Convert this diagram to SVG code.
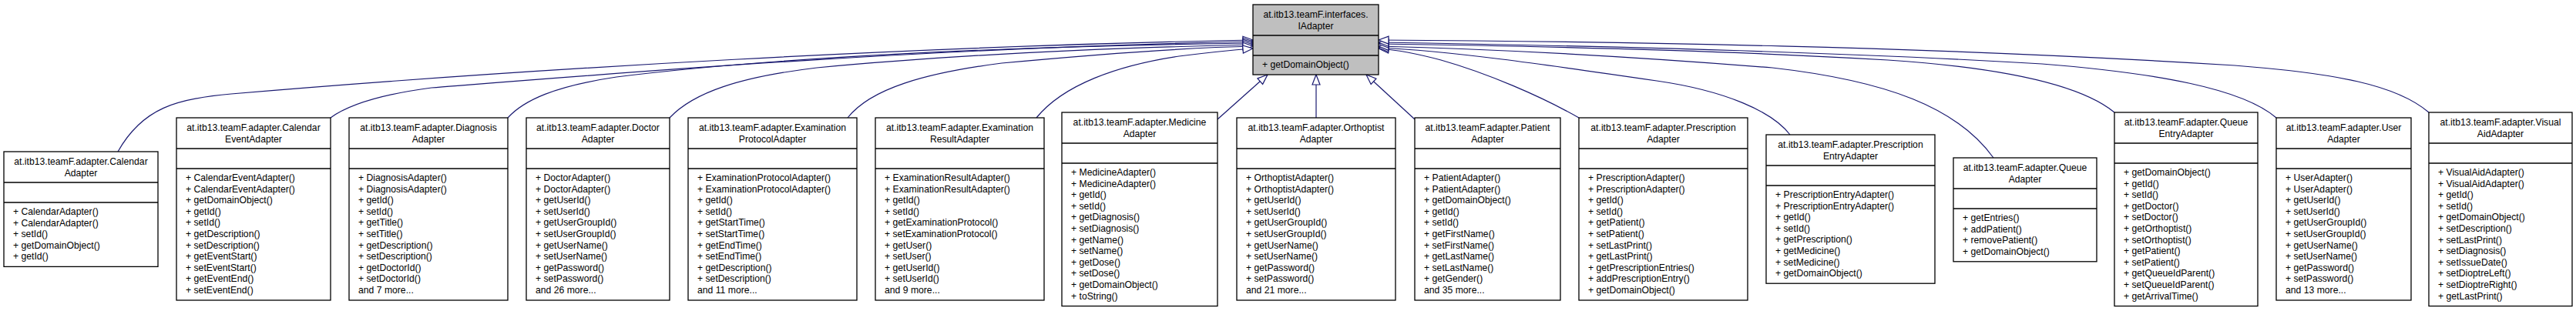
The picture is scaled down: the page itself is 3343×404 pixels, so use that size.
<svg xmlns="http://www.w3.org/2000/svg" width="3343" height="404" viewBox="0 0 3343 404">
<style>
.box{fill:#fff;stroke:#000;stroke-width:1.3}
.top{fill:#bfbfbf;stroke:#000;stroke-width:1.3}
.sep{stroke:#000;stroke-width:1.3}
.t{font-family:"Liberation Sans",Arial,sans-serif;font-size:12.2px;fill:#000}
.c{text-anchor:middle}
.e{fill:none;stroke:#191970;stroke-width:1.2;marker-end:url(#inh)}
</style>
<defs>
<marker id="inh" markerUnits="userSpaceOnUse" markerWidth="16" markerHeight="12" viewBox="0 0 16 12" refX="14" refY="6" orient="auto">
<path d="M1,1 L14,6 L1,11 z" fill="#fff" stroke="#191970" stroke-width="1.2"/>
</marker>
</defs>
<rect width="3343" height="404" fill="#fff"/>
<g id="connectors">
<path class="e" d="M153,197 C185,140 230,128 300,122 C700,88 1200,60 1626,52"/>
<path class="e" d="M429,153 C455,134 500,122 560,114 C800,95 1200,62 1626,54"/>
<path class="e" d="M659,153 C680,130 720,112 800,100 C1000,75 1300,60 1626,56"/>
<path class="e" d="M869,153 C900,120 960,100 1060,88 C1250,70 1450,62 1626,58"/>
<path class="e" d="M1100,153 C1130,115 1200,95 1300,82 C1450,68 1540,62 1626,60"/>
<path class="e" d="M1345,153 C1380,110 1450,85 1530,73 C1570,68 1600,65 1626,63"/>
<path class="e" d="M1580,155 L1645,97"/>
<path class="e" d="M1708,153 L1708,97"/>
<path class="e" d="M1836,155 L1773,97"/>
<path class="e" d="M2049,153 C2000,125 1930,95 1870,78 C1840,70 1815,65 1789,63"/>
<path class="e" d="M2323,175 C2300,145 2240,118 2150,105 C2000,83 1880,66 1789,62"/>
<path class="e" d="M2587,205 C2540,140 2450,105 2300,88 C2100,72 1950,64 1789,60"/>
<path class="e" d="M2744,146 C2700,110 2600,88 2450,78 C2250,66 2000,60 1789,57"/>
<path class="e" d="M2954,153 C2910,115 2800,95 2650,83 C2400,68 2100,60 1789,55"/>
<path class="e" d="M3152,146 C3110,110 3030,95 2900,85 C2500,60 2100,54 1789,52"/>
</g>
<g id="IAdapter" transform="translate(1626,6)">
<rect class="top" width="163" height="91"/>
<line class="sep" x1="0" y1="40" x2="163" y2="40"/>
<line class="sep" x1="0" y1="66" x2="163" y2="66"/>
<text class="t c" x="81.5" y="17">at.itb13.teamF.interfaces.</text>
<text class="t c" x="81.5" y="31.6">IAdapter</text>
<text class="t" x="12" y="82">+ getDomainObject()</text>
</g>
<g id="CalendarAdapter" transform="translate(5,197)">
<rect class="box" width="200" height="149.4"/>
<line class="sep" x1="0" y1="40" x2="200" y2="40"/>
<line class="sep" x1="0" y1="66" x2="200" y2="66"/>
<text class="t c" x="100" y="17">at.itb13.teamF.adapter.Calendar</text>
<text class="t c" x="100" y="31.6">Adapter</text>
<text class="t" y="82"><tspan x="12">+ CalendarAdapter()</tspan><tspan x="12" dy="14.6">+ CalendarAdapter()</tspan><tspan x="12" dy="14.6">+ setId()</tspan><tspan x="12" dy="14.6">+ getDomainObject()</tspan><tspan x="12" dy="14.6">+ getId()</tspan></text>
</g>
<g id="CalendarEventAdapter" transform="translate(229,153)">
<rect class="box" width="200" height="237"/>
<line class="sep" x1="0" y1="40" x2="200" y2="40"/>
<line class="sep" x1="0" y1="66" x2="200" y2="66"/>
<text class="t c" x="100" y="17">at.itb13.teamF.adapter.Calendar</text>
<text class="t c" x="100" y="31.6">EventAdapter</text>
<text class="t" y="82"><tspan x="12">+ CalendarEventAdapter()</tspan><tspan x="12" dy="14.6">+ CalendarEventAdapter()</tspan><tspan x="12" dy="14.6">+ getDomainObject()</tspan><tspan x="12" dy="14.6">+ getId()</tspan><tspan x="12" dy="14.6">+ setId()</tspan><tspan x="12" dy="14.6">+ getDescription()</tspan><tspan x="12" dy="14.6">+ setDescription()</tspan><tspan x="12" dy="14.6">+ getEventStart()</tspan><tspan x="12" dy="14.6">+ setEventStart()</tspan><tspan x="12" dy="14.6">+ getEventEnd()</tspan><tspan x="12" dy="14.6">+ setEventEnd()</tspan></text>
</g>
<g id="DiagnosisAdapter" transform="translate(453,153)">
<rect class="box" width="206" height="237"/>
<line class="sep" x1="0" y1="40" x2="206" y2="40"/>
<line class="sep" x1="0" y1="66" x2="206" y2="66"/>
<text class="t c" x="103" y="17">at.itb13.teamF.adapter.Diagnosis</text>
<text class="t c" x="103" y="31.6">Adapter</text>
<text class="t" y="82"><tspan x="12">+ DiagnosisAdapter()</tspan><tspan x="12" dy="14.6">+ DiagnosisAdapter()</tspan><tspan x="12" dy="14.6">+ getId()</tspan><tspan x="12" dy="14.6">+ setId()</tspan><tspan x="12" dy="14.6">+ getTitle()</tspan><tspan x="12" dy="14.6">+ setTitle()</tspan><tspan x="12" dy="14.6">+ getDescription()</tspan><tspan x="12" dy="14.6">+ setDescription()</tspan><tspan x="12" dy="14.6">+ getDoctorId()</tspan><tspan x="12" dy="14.6">+ setDoctorId()</tspan><tspan x="12" dy="14.6">and 7 more...</tspan></text>
</g>
<g id="DoctorAdapter" transform="translate(683,153)">
<rect class="box" width="186" height="237"/>
<line class="sep" x1="0" y1="40" x2="186" y2="40"/>
<line class="sep" x1="0" y1="66" x2="186" y2="66"/>
<text class="t c" x="93" y="17">at.itb13.teamF.adapter.Doctor</text>
<text class="t c" x="93" y="31.6">Adapter</text>
<text class="t" y="82"><tspan x="12">+ DoctorAdapter()</tspan><tspan x="12" dy="14.6">+ DoctorAdapter()</tspan><tspan x="12" dy="14.6">+ getUserId()</tspan><tspan x="12" dy="14.6">+ setUserId()</tspan><tspan x="12" dy="14.6">+ getUserGroupId()</tspan><tspan x="12" dy="14.6">+ setUserGroupId()</tspan><tspan x="12" dy="14.6">+ getUserName()</tspan><tspan x="12" dy="14.6">+ setUserName()</tspan><tspan x="12" dy="14.6">+ getPassword()</tspan><tspan x="12" dy="14.6">+ setPassword()</tspan><tspan x="12" dy="14.6">and 26 more...</tspan></text>
</g>
<g id="ExaminationProtocolAdapter" transform="translate(893,153)">
<rect class="box" width="219" height="237"/>
<line class="sep" x1="0" y1="40" x2="219" y2="40"/>
<line class="sep" x1="0" y1="66" x2="219" y2="66"/>
<text class="t c" x="109.5" y="17">at.itb13.teamF.adapter.Examination</text>
<text class="t c" x="109.5" y="31.6">ProtocolAdapter</text>
<text class="t" y="82"><tspan x="12">+ ExaminationProtocolAdapter()</tspan><tspan x="12" dy="14.6">+ ExaminationProtocolAdapter()</tspan><tspan x="12" dy="14.6">+ getId()</tspan><tspan x="12" dy="14.6">+ setId()</tspan><tspan x="12" dy="14.6">+ getStartTime()</tspan><tspan x="12" dy="14.6">+ setStartTime()</tspan><tspan x="12" dy="14.6">+ getEndTime()</tspan><tspan x="12" dy="14.6">+ setEndTime()</tspan><tspan x="12" dy="14.6">+ getDescription()</tspan><tspan x="12" dy="14.6">+ setDescription()</tspan><tspan x="12" dy="14.6">and 11 more...</tspan></text>
</g>
<g id="ExaminationResultAdapter" transform="translate(1136,153)">
<rect class="box" width="219" height="237"/>
<line class="sep" x1="0" y1="40" x2="219" y2="40"/>
<line class="sep" x1="0" y1="66" x2="219" y2="66"/>
<text class="t c" x="109.5" y="17">at.itb13.teamF.adapter.Examination</text>
<text class="t c" x="109.5" y="31.6">ResultAdapter</text>
<text class="t" y="82"><tspan x="12">+ ExaminationResultAdapter()</tspan><tspan x="12" dy="14.6">+ ExaminationResultAdapter()</tspan><tspan x="12" dy="14.6">+ getId()</tspan><tspan x="12" dy="14.6">+ setId()</tspan><tspan x="12" dy="14.6">+ getExaminationProtocol()</tspan><tspan x="12" dy="14.6">+ setExaminationProtocol()</tspan><tspan x="12" dy="14.6">+ getUser()</tspan><tspan x="12" dy="14.6">+ setUser()</tspan><tspan x="12" dy="14.6">+ getUserId()</tspan><tspan x="12" dy="14.6">+ setUserId()</tspan><tspan x="12" dy="14.6">and 9 more...</tspan></text>
</g>
<g id="MedicineAdapter" transform="translate(1378,146)">
<rect class="box" width="202" height="251.6"/>
<line class="sep" x1="0" y1="40" x2="202" y2="40"/>
<line class="sep" x1="0" y1="66" x2="202" y2="66"/>
<text class="t c" x="101" y="17">at.itb13.teamF.adapter.Medicine</text>
<text class="t c" x="101" y="31.6">Adapter</text>
<text class="t" y="82"><tspan x="12">+ MedicineAdapter()</tspan><tspan x="12" dy="14.6">+ MedicineAdapter()</tspan><tspan x="12" dy="14.6">+ getId()</tspan><tspan x="12" dy="14.6">+ setId()</tspan><tspan x="12" dy="14.6">+ getDiagnosis()</tspan><tspan x="12" dy="14.6">+ setDiagnosis()</tspan><tspan x="12" dy="14.6">+ getName()</tspan><tspan x="12" dy="14.6">+ setName()</tspan><tspan x="12" dy="14.6">+ getDose()</tspan><tspan x="12" dy="14.6">+ setDose()</tspan><tspan x="12" dy="14.6">+ getDomainObject()</tspan><tspan x="12" dy="14.6">+ toString()</tspan></text>
</g>
<g id="OrthoptistAdapter" transform="translate(1605,153)">
<rect class="box" width="206" height="237"/>
<line class="sep" x1="0" y1="40" x2="206" y2="40"/>
<line class="sep" x1="0" y1="66" x2="206" y2="66"/>
<text class="t c" x="103" y="17">at.itb13.teamF.adapter.Orthoptist</text>
<text class="t c" x="103" y="31.6">Adapter</text>
<text class="t" y="82"><tspan x="12">+ OrthoptistAdapter()</tspan><tspan x="12" dy="14.6">+ OrthoptistAdapter()</tspan><tspan x="12" dy="14.6">+ getUserId()</tspan><tspan x="12" dy="14.6">+ setUserId()</tspan><tspan x="12" dy="14.6">+ getUserGroupId()</tspan><tspan x="12" dy="14.6">+ setUserGroupId()</tspan><tspan x="12" dy="14.6">+ getUserName()</tspan><tspan x="12" dy="14.6">+ setUserName()</tspan><tspan x="12" dy="14.6">+ getPassword()</tspan><tspan x="12" dy="14.6">+ setPassword()</tspan><tspan x="12" dy="14.6">and 21 more...</tspan></text>
</g>
<g id="PatientAdapter" transform="translate(1836,153)">
<rect class="box" width="189" height="237"/>
<line class="sep" x1="0" y1="40" x2="189" y2="40"/>
<line class="sep" x1="0" y1="66" x2="189" y2="66"/>
<text class="t c" x="94.5" y="17">at.itb13.teamF.adapter.Patient</text>
<text class="t c" x="94.5" y="31.6">Adapter</text>
<text class="t" y="82"><tspan x="12">+ PatientAdapter()</tspan><tspan x="12" dy="14.6">+ PatientAdapter()</tspan><tspan x="12" dy="14.6">+ getDomainObject()</tspan><tspan x="12" dy="14.6">+ getId()</tspan><tspan x="12" dy="14.6">+ setId()</tspan><tspan x="12" dy="14.6">+ getFirstName()</tspan><tspan x="12" dy="14.6">+ setFirstName()</tspan><tspan x="12" dy="14.6">+ getLastName()</tspan><tspan x="12" dy="14.6">+ setLastName()</tspan><tspan x="12" dy="14.6">+ getGender()</tspan><tspan x="12" dy="14.6">and 35 more...</tspan></text>
</g>
<g id="PrescriptionAdapter" transform="translate(2049,153)">
<rect class="box" width="219" height="237"/>
<line class="sep" x1="0" y1="40" x2="219" y2="40"/>
<line class="sep" x1="0" y1="66" x2="219" y2="66"/>
<text class="t c" x="109.5" y="17">at.itb13.teamF.adapter.Prescription</text>
<text class="t c" x="109.5" y="31.6">Adapter</text>
<text class="t" y="82"><tspan x="12">+ PrescriptionAdapter()</tspan><tspan x="12" dy="14.6">+ PrescriptionAdapter()</tspan><tspan x="12" dy="14.6">+ getId()</tspan><tspan x="12" dy="14.6">+ setId()</tspan><tspan x="12" dy="14.6">+ getPatient()</tspan><tspan x="12" dy="14.6">+ setPatient()</tspan><tspan x="12" dy="14.6">+ setLastPrint()</tspan><tspan x="12" dy="14.6">+ getLastPrint()</tspan><tspan x="12" dy="14.6">+ getPrescriptionEntries()</tspan><tspan x="12" dy="14.6">+ addPrescriptionEntry()</tspan><tspan x="12" dy="14.6">+ getDomainObject()</tspan></text>
</g>
<g id="PrescriptionEntryAdapter" transform="translate(2292,175)">
<rect class="box" width="219" height="193.2"/>
<line class="sep" x1="0" y1="40" x2="219" y2="40"/>
<line class="sep" x1="0" y1="66" x2="219" y2="66"/>
<text class="t c" x="109.5" y="17">at.itb13.teamF.adapter.Prescription</text>
<text class="t c" x="109.5" y="31.6">EntryAdapter</text>
<text class="t" y="82"><tspan x="12">+ PrescriptionEntryAdapter()</tspan><tspan x="12" dy="14.6">+ PrescriptionEntryAdapter()</tspan><tspan x="12" dy="14.6">+ getId()</tspan><tspan x="12" dy="14.6">+ setId()</tspan><tspan x="12" dy="14.6">+ getPrescription()</tspan><tspan x="12" dy="14.6">+ getMedicine()</tspan><tspan x="12" dy="14.6">+ setMedicine()</tspan><tspan x="12" dy="14.6">+ getDomainObject()</tspan></text>
</g>
<g id="QueueAdapter" transform="translate(2535,205)">
<rect class="box" width="186" height="134.8"/>
<line class="sep" x1="0" y1="40" x2="186" y2="40"/>
<line class="sep" x1="0" y1="66" x2="186" y2="66"/>
<text class="t c" x="93" y="17">at.itb13.teamF.adapter.Queue</text>
<text class="t c" x="93" y="31.6">Adapter</text>
<text class="t" y="82"><tspan x="12">+ getEntries()</tspan><tspan x="12" dy="14.6">+ addPatient()</tspan><tspan x="12" dy="14.6">+ removePatient()</tspan><tspan x="12" dy="14.6">+ getDomainObject()</tspan></text>
</g>
<g id="QueueEntryAdapter" transform="translate(2744,146)">
<rect class="box" width="186" height="251.6"/>
<line class="sep" x1="0" y1="40" x2="186" y2="40"/>
<line class="sep" x1="0" y1="66" x2="186" y2="66"/>
<text class="t c" x="93" y="17">at.itb13.teamF.adapter.Queue</text>
<text class="t c" x="93" y="31.6">EntryAdapter</text>
<text class="t" y="82"><tspan x="12">+ getDomainObject()</tspan><tspan x="12" dy="14.6">+ getId()</tspan><tspan x="12" dy="14.6">+ setId()</tspan><tspan x="12" dy="14.6">+ getDoctor()</tspan><tspan x="12" dy="14.6">+ setDoctor()</tspan><tspan x="12" dy="14.6">+ getOrthoptist()</tspan><tspan x="12" dy="14.6">+ setOrthoptist()</tspan><tspan x="12" dy="14.6">+ getPatient()</tspan><tspan x="12" dy="14.6">+ setPatient()</tspan><tspan x="12" dy="14.6">+ getQueueIdParent()</tspan><tspan x="12" dy="14.6">+ setQueueIdParent()</tspan><tspan x="12" dy="14.6">+ getArrivalTime()</tspan></text>
</g>
<g id="UserAdapter" transform="translate(2954,153)">
<rect class="box" width="175" height="237"/>
<line class="sep" x1="0" y1="40" x2="175" y2="40"/>
<line class="sep" x1="0" y1="66" x2="175" y2="66"/>
<text class="t c" x="87.5" y="17">at.itb13.teamF.adapter.User</text>
<text class="t c" x="87.5" y="31.6">Adapter</text>
<text class="t" y="82"><tspan x="12">+ UserAdapter()</tspan><tspan x="12" dy="14.6">+ UserAdapter()</tspan><tspan x="12" dy="14.6">+ getUserId()</tspan><tspan x="12" dy="14.6">+ setUserId()</tspan><tspan x="12" dy="14.6">+ getUserGroupId()</tspan><tspan x="12" dy="14.6">+ setUserGroupId()</tspan><tspan x="12" dy="14.6">+ getUserName()</tspan><tspan x="12" dy="14.6">+ setUserName()</tspan><tspan x="12" dy="14.6">+ getPassword()</tspan><tspan x="12" dy="14.6">+ setPassword()</tspan><tspan x="12" dy="14.6">and 13 more...</tspan></text>
</g>
<g id="VisualAidAdapter" transform="translate(3152,146)">
<rect class="box" width="186" height="251.6"/>
<line class="sep" x1="0" y1="40" x2="186" y2="40"/>
<line class="sep" x1="0" y1="66" x2="186" y2="66"/>
<text class="t c" x="93" y="17">at.itb13.teamF.adapter.Visual</text>
<text class="t c" x="93" y="31.6">AidAdapter</text>
<text class="t" y="82"><tspan x="12">+ VisualAidAdapter()</tspan><tspan x="12" dy="14.6">+ VisualAidAdapter()</tspan><tspan x="12" dy="14.6">+ getId()</tspan><tspan x="12" dy="14.6">+ setId()</tspan><tspan x="12" dy="14.6">+ getDomainObject()</tspan><tspan x="12" dy="14.6">+ setDescription()</tspan><tspan x="12" dy="14.6">+ setLastPrint()</tspan><tspan x="12" dy="14.6">+ setDiagnosis()</tspan><tspan x="12" dy="14.6">+ setIssueDate()</tspan><tspan x="12" dy="14.6">+ setDioptreLeft()</tspan><tspan x="12" dy="14.6">+ setDioptreRight()</tspan><tspan x="12" dy="14.6">+ getLastPrint()</tspan></text>
</g>
</svg>
